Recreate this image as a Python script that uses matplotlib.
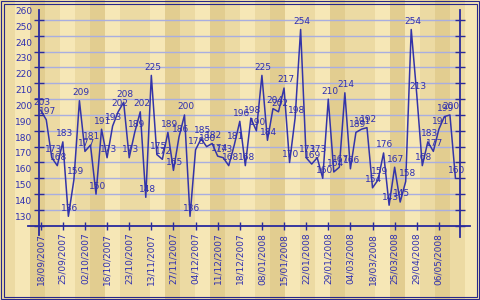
import matplotlib
matplotlib.use('Agg')

import matplotlib.pyplot as plt
from matplotlib.colors import ListedColormap
from matplotlib.lines import Line2D
from matplotlib.patches import Rectangle
from matplotlib.transforms import ScaledTranslation, blended_transform_factory
import numpy as np

# data (one value per day, labels every 4th point)
tick_dates = ['18/09/2007', '25/09/2007', '02/10/2007', '16/10/2007', '23/10/2007',
              '13/11/2007', '27/11/2007', '04/12/2007', '11/12/2007', '18/12/2007',
              '08/01/2008', '15/01/2008', '22/01/2008', '29/01/2008', '04/03/2008',
              '18/03/2008', '25/03/2008', '29/04/2008', '06/05/2008']
values = [203, 197, 173, 168, 183, 136, 159, 209, 177, 181,
          150, 191, 173, 193, 202, 208, 173, 189, 202, 148,
          225, 175, 172, 189, 165, 186, 200, 136, 178, 185,
          180, 182, 174, 173, 168, 181, 196, 168, 198, 190,
          225, 184, 204, 202, 217, 170, 198, 254, 173, 169,
          173, 160, 210, 164, 167, 214, 166, 189, 191, 192,
          154, 159, 176, 143, 167, 145, 158, 254, 213, 168,
          183, 177, 191, 199, 200, 160]
y_ticks = list(range(130, 261, 10))

line_color = '#3434a8'
text_color = '#2f2fb0'
axis_color = '#2a2a9c'
grid_color = '#a9aee0'
font_size = 6.5

fig = plt.figure(figsize=(4.8, 3.0), dpi=100)

# wood-like background made of vertical strips
bg = fig.add_axes([0, 0, 1, 1], zorder=-1)
wood_tones = [1, 0, 2, 1, 0, 1, 2, 0, 1, 1, 0, 2, 1, 0, 2, 1,
              0, 1, 2, 0, 1, 0, 2, 1, 1, 0, 2, 0, 1, 2, 1, 0]
bg.imshow(np.array([wood_tones]), cmap=ListedColormap(['#f6e7b6', '#ecdaa3', '#e2cd90']),
          vmin=0, vmax=2, aspect='auto', interpolation='nearest', extent=[0, 1, 0, 1])
bg.axis('off')

# double navy frame round the picture
for inset in (0.8, 3.5):
    fig.add_artist(Rectangle((inset / 480, inset / 300), 1 - 2 * inset / 480, 1 - 2 * inset / 300,
                             transform=fig.transFigure, fill=False, ec='#28288a', lw=0.8))

ax = fig.add_axes([39 / 480, 74.2 / 300, 420.5 / 480, 215.8 / 300])
ax.patch.set_alpha(0)

x = np.arange(len(values))
ax.plot(x, values, color=line_color, lw=1.1, zorder=3)
ax.set_xlim(-0.31, 75.73)
ax.set_ylim(130, 266.3)

# horizontal grid
ax.set_yticks(y_ticks)
ax.grid(axis='y', color=grid_color, lw=1.0, zorder=1)
ax.tick_params(axis='y', direction='inout', length=7, width=1, color=axis_color,
               left=True, right=True, labelleft=False)

# x ticks every 4 points
ax.set_xticks(x[::4])
ax.set_xticklabels(tick_dates, rotation=90)
ax.tick_params(axis='x', direction='inout', length=6, width=1, color=axis_color,
               labelsize=font_size, labelcolor=text_color, pad=2)

for s in ax.spines.values():
    s.set_visible(False)

# axis lines, drawn a little past the plot area like the original
for xs, ys in [([0, 0], [-0.042, 1]), ([1, 1], [-0.05, 1]), ([-0.026, 1.025], [0, 0])]:
    ax.add_line(Line2D(xs, ys, transform=ax.transAxes, color=axis_color, lw=1.3, clip_on=False))

# y labels sit a bit above their ticks
ytrans = blended_transform_factory(ax.transAxes, ax.transData) + \
    ScaledTranslation(0, 0.085, fig.dpi_scale_trans)
for v in y_ticks:
    ax.text(-0.016, v, str(v), transform=ytrans, ha='right', va='center',
            fontsize=font_size, color=text_color)

# value labels
for xi, v in zip(x, values):
    ax.annotate(str(v), (xi, v), xytext=(1, 5.8), textcoords='offset points',
                ha='center', va='center', fontsize=font_size, color=text_color,
                annotation_clip=False, zorder=4)

fig.savefig('out.png', dpi=100)
